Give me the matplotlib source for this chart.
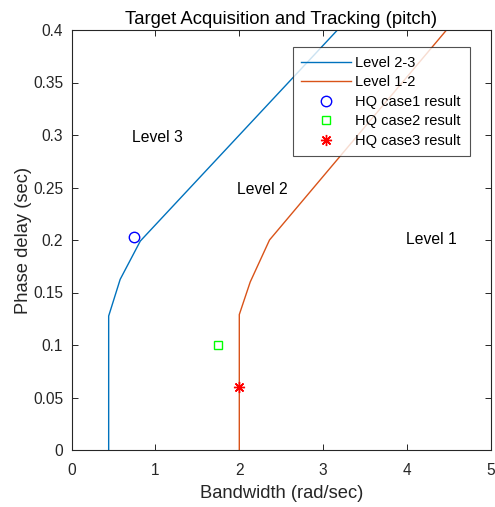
import matplotlib
matplotlib.use("Agg")
import matplotlib.pyplot as plt

# Data
lvl23_x = [0.443, 0.443, 0.58, 0.82, 3.17]
lvl23_y = [0.0, 0.1276, 0.1625, 0.199, 0.40]
lvl12_x = [2.0, 2.0, 2.13, 2.36, 4.47]
lvl12_y = [0.0, 0.129, 0.16, 0.20, 0.40]
case1 = (0.74, 0.203)
case2 = (1.75, 0.10)
case3 = (2.0, 0.06)
region_labels = ["Level 3", "Level 2", "Level 1"]
region_pos = [(1.02, 0.298), (2.27, 0.248), (4.29, 0.20)]

plt.rcParams['font.family'] = ['Liberation Sans', 'DejaVu Sans']
dark = (0.15, 0.15, 0.15)

fig = plt.figure(figsize=(4.95, 5.07), dpi=100)
ax = fig.add_axes([71.5/495, 57/507, 419.5/495, 420/507])

ax.plot(lvl23_x, lvl23_y, color=(0, 0.447, 0.741), lw=1.0, label="Level 2-3")
ax.plot(lvl12_x, lvl12_y, color=(0.85, 0.325, 0.098), lw=1.0, label="Level 1-2")
ax.plot([case1[0]], [case1[1]], 'o', mfc='none', mec='blue', ms=7.5, mew=1.0, ls='none', label="HQ case1 result")
ax.plot([case2[0]], [case2[1]], 's', mfc='none', mec=(0, 1, 0), ms=5.5, mew=1.0, ls='none', label="HQ case2 result")
ax.plot([case3[0]], [case3[1]], marker=(8, 2, 0), color='red', ms=8, mew=1.0, ls='none', label="HQ case3 result")

for lab, (x, y) in zip(region_labels, region_pos):
    ax.text(x, y, lab, ha='center', va='center', fontsize=11.3, color='black')

ax.set_xlim(0, 5)
ax.set_ylim(0, 0.4)
ax.set_xticks([0, 1, 2, 3, 4, 5])
ax.set_yticks([0, 0.05, 0.1, 0.15, 0.2, 0.25, 0.3, 0.35, 0.4])
ax.set_yticklabels(["0", "0.05", "0.1", "0.15", "0.2", "0.25", "0.3", "0.35", "0.4"])
ax.tick_params(direction='in', top=True, right=True, length=4.5, width=0.7,
               colors=dark, labelsize=11.2, labelcolor=dark)
ax.tick_params(axis='x', pad=9.5)
ax.tick_params(axis='y', pad=6)
for s in ax.spines.values():
    s.set_linewidth(0.8)
    s.set_color(dark)

ax.set_xlabel("Bandwidth (rad/sec)", fontsize=13.2, color=dark, labelpad=5)
ax.set_ylabel("Phase delay (sec)", fontsize=13.2, color=dark, labelpad=1)
ax.set_title("Target Acquisition and Tracking (pitch)", fontsize=13.3, color='black', pad=4)

leg = ax.legend(loc='upper left', bbox_to_anchor=((292.7-71.5)/419.5, (450-47.3)/420),
                fontsize=10.5, frameon=True, fancybox=False, edgecolor=dark,
                borderpad=0.6, labelspacing=0.37, handlelength=3.4, handletextpad=0.3,
                borderaxespad=0)
leg.get_frame().set_linewidth(0.8)

fig.savefig("out.png", dpi=100)
